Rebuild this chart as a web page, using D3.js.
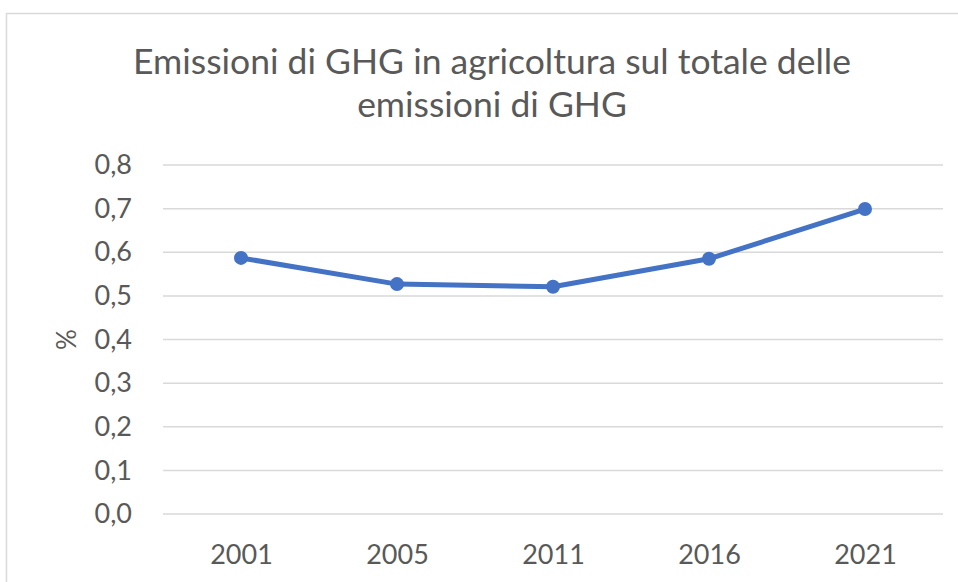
<!DOCTYPE html>
<html>
<head>
<meta charset="utf-8">
<script src="https://cdn.jsdelivr.net/npm/d3@7"></script>
<style>
  body { margin: 0; background: #fff; }
  text { font-family: Lato, "Open Sans", sans-serif; fill: #595959; }
</style>
</head>
<body>
<div id="chart"></div>
<script>
const years = ['2001', '2005', '2011', '2016', '2021']
const shares = [0.587, 0.527, 0.521, 0.585, 0.699]
const yTicks = [0, 0.1, 0.2, 0.3, 0.4, 0.5, 0.6, 0.7, 0.8]
const titleLines = ['Emissioni di GHG in agricoltura sul totale delle', 'emissioni di GHG']

const W = 958
const H = 582
const p_left = 163
const p_right = 943
const p_top = 165
const p_bottom = 514

const c_line = '#4472C4'
const c_grid = '#d9d9d9'

const svg = d3.select('#chart')
  .append('svg')
  .attr('width', W)
  .attr('height', H)

// outer chart border
svg.append('rect')
  .attr('x', 6.5).attr('y', 13.5)
  .attr('width', W).attr('height', H)
  .attr('fill', 'none')
  .attr('stroke', '#d9d9d9')
  .attr('stroke-width', 1.5)

// title
svg.append('g')
  .selectAll('text')
  .data(titleLines)
  .enter()
  .append('text')
  .attr('x', 492)
  .attr('y', (d, i) => 74 + i * 43)
  .attr('text-anchor', 'middle')
  .style('font-size', '35.5px')
  .text((d) => d)

const x = d3.scalePoint().domain(years).range([p_left, p_right]).padding(0.5)
const y = d3.scaleLinear().domain([0, 0.8]).range([p_bottom, p_top])

// gridlines
svg.append('g')
  .selectAll('line')
  .data(yTicks)
  .enter()
  .append('line')
  .attr('x1', p_left).attr('x2', p_right)
  .attr('y1', (d) => y(d)).attr('y2', (d) => y(d))
  .attr('stroke', c_grid)
  .attr('stroke-width', 1.5)

// y axis labels
const yAxis = d3.axisLeft(y)
  .tickValues(yTicks)
  .tickSize(0)
  .tickPadding(0)
  .tickFormat((d) => d3.format('.1f')(d).replace('.', ','))

svg.append('g')
  .attr('transform', `translate(${p_left - 31},0)`)
  .call(yAxis)
  .call((g) => g.select('.domain').remove())
  .selectAll('text')
  .style('font-size', '27px')
  .style('font-family', 'Lato, sans-serif')
  .attr('fill', '#595959')

// x axis labels
const xAxis = d3.axisBottom(x).tickSize(0).tickPadding(0)
svg.append('g')
  .attr('transform', `translate(0,${p_bottom + 31})`)
  .call(xAxis)
  .call((g) => g.select('.domain').remove())
  .selectAll('text')
  .style('font-size', '27px')
  .style('font-family', 'Lato, sans-serif')
  .attr('fill', '#595959')

// y axis title
svg.append('text')
  .attr('transform', `translate(76,${y(0.4)}) rotate(-90)`)
  .attr('text-anchor', 'middle')
  .style('font-size', '26px')
  .text('%')

// line
const line = d3.line()
  .x((d, i) => x(years[i]))
  .y((d) => y(d))

svg.append('path')
  .datum(shares)
  .attr('d', line)
  .attr('fill', 'none')
  .attr('stroke', c_line)
  .attr('stroke-width', 5)
  .attr('stroke-linejoin', 'round')

svg.append('g')
  .selectAll('circle')
  .data(shares)
  .enter()
  .append('circle')
  .attr('cx', (d, i) => x(years[i]))
  .attr('cy', (d) => y(d))
  .attr('r', 7)
  .attr('fill', c_line)
</script>
</body>
</html>
